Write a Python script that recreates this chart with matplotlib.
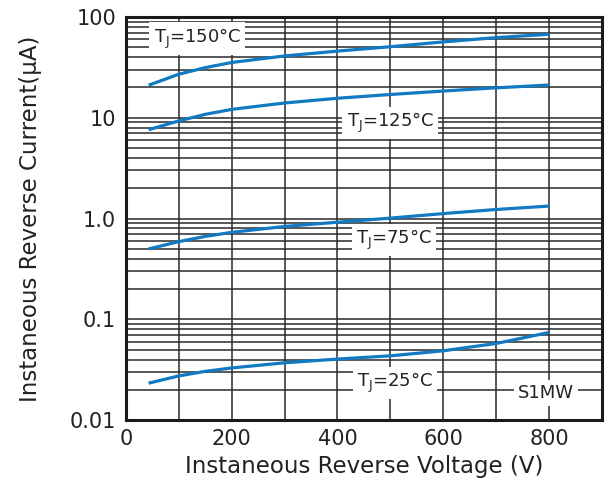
import numpy as np
import matplotlib.pyplot as plt
from matplotlib.ticker import FixedLocator, NullFormatter, LogLocator

plt.rcParams['font.family'] = ['DejaVu Sans']

# Curve data (V, uA)
voltage = [43, 100, 150, 200, 300, 400, 500, 600, 700, 800]
i_150 = [21.0, 27.0, 31.4, 35.3, 41.0, 45.8, 50.6, 56.5, 62.3, 67.3]
i_125 = [7.6, 9.3, 10.8, 12.1, 14.0, 15.6, 17.0, 18.4, 19.8, 21.1]
i_75 = [0.50, 0.59, 0.665, 0.73, 0.835, 0.92, 1.01, 1.12, 1.23, 1.33]
i_25 = [0.0233, 0.0275, 0.0305, 0.0330, 0.0371, 0.0404, 0.0435, 0.0488, 0.0577, 0.0741]

labels = ["T$_\\mathregular{J}$=150°C", "T$_\\mathregular{J}$=125°C",
          "T$_\\mathregular{J}$=75°C", "T$_\\mathregular{J}$=25°C"]
label_pos = [(135, 61), (500, 8.9), (507, 0.61), (509, 0.0233)]

fig = plt.figure(figsize=(6.08, 4.83), dpi=100)
ax = fig.add_axes([0.207, 0.130, 0.783, 0.835])

blue = '#1279c3'
for cur in [i_150, i_125, i_75, i_25]:
    ax.plot(voltage, cur, color=blue, lw=2.3, solid_capstyle='butt', zorder=3)

ax.set_yscale('log')
ax.set_xlim(0, 900)
ax.set_ylim(0.01, 100)

ax.xaxis.set_major_locator(FixedLocator([0, 200, 400, 600, 800]))
ax.xaxis.set_minor_locator(FixedLocator([100, 300, 500, 700]))
ax.yaxis.set_major_locator(FixedLocator([0.01, 0.1, 1, 10, 100]))
ax.yaxis.set_minor_locator(LogLocator(base=10, subs=np.arange(2, 10)))
ax.yaxis.set_minor_formatter(NullFormatter())
ax.set_yticklabels(["0.01", "0.1", "1.0", "10", "100"])

ax.grid(True, which='both', color='#2a2a2a', lw=1.1)
ax.set_axisbelow(True)
ax.tick_params(which='both', length=0, labelsize=15, colors='#222222')
ax.tick_params(axis='y', pad=7)
ax.tick_params(axis='x', pad=6)
for s in ax.spines.values():
    s.set_linewidth(2.2)
    s.set_color('#1a1a1a')

for txt, (x, y) in zip(labels, label_pos):
    ax.text(x, y, txt, fontsize=13, color='#222222', ha='center', va='center', zorder=4,
            bbox=dict(facecolor='white', edgecolor='none', pad=3))
ax.text(794, 0.0185, "S1MW", fontsize=13, color='#222222', ha='center', va='center', zorder=4,
        bbox=dict(facecolor='white', edgecolor='none', pad=3))

ax.set_xlabel("Instaneous Reverse Voltage (V)", fontsize=16.5, color='#222222', labelpad=5)
ax.set_ylabel("Instaneous Reverse Current(μA)", fontsize=16.5, color='#222222', labelpad=20)

fig.savefig("out.png", dpi=100)
